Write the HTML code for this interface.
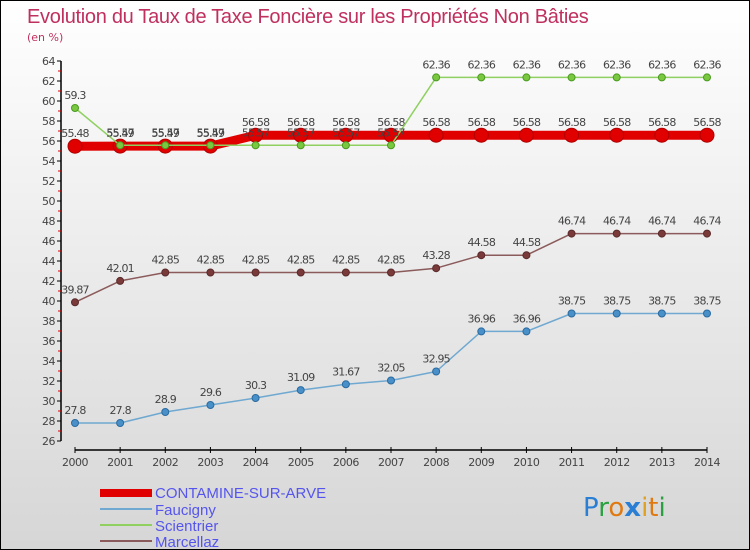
<!DOCTYPE html>
<html><head><meta charset="utf-8"><style>
body{margin:0}
#c{position:relative;width:748px;height:548px;border:1px solid #000;background:linear-gradient(#ffffff,#d6d6d6);font-family:"DejaVu Sans","Liberation Sans",sans-serif;overflow:hidden}
svg text{font-family:"DejaVu Sans","Liberation Sans",sans-serif}
</style></head><body>
<div id="c">
<svg id="s" width="748" height="548" xmlns="http://www.w3.org/2000/svg">
<text x="26" y="22" font-size="20" fill="#c0305e" style="font-family:'Liberation Sans',sans-serif;letter-spacing:-0.3px">Evolution du Taux de Taxe Foncière sur les Propriétés Non Bâties</text>
<text x="26" y="40" font-size="11" fill="#c0305e">(en %)</text>
<g id="axes"></g><g id="series"></g>
<g style="font-family:'Liberation Sans',sans-serif">
<rect x="99" y="488" width="52" height="8" fill="#e00000"/>
<text x="154" y="497" font-size="15" fill="#5555ee" style="font-family:'Liberation Sans',sans-serif">CONTAMINE-SUR-ARVE</text>
<line x1="99" y1="508" x2="151" y2="508" stroke="#6fa8d0" stroke-width="2"/>
<text x="154" y="514" font-size="15" fill="#5555ee" style="font-family:'Liberation Sans',sans-serif">Faucigny</text>
<line x1="99" y1="524" x2="151" y2="524" stroke="#8fd060" stroke-width="2"/>
<text x="154" y="530" font-size="15" fill="#5555ee" style="font-family:'Liberation Sans',sans-serif">Scientrier</text>
<line x1="99" y1="540" x2="151" y2="540" stroke="#8b5a5a" stroke-width="2"/>
<text x="154" y="546" font-size="15" fill="#5555ee" style="font-family:'Liberation Sans',sans-serif">Marcellaz</text>
</g>
<g font-size="26">
<text x="582" y="515"><tspan fill="#2a7fd4">P</tspan><tspan fill="#2aa040">r</tspan><tspan fill="#e07a10">o</tspan><tspan fill="#2a7fd4" font-weight="bold">x</tspan><tspan fill="#e0a020">i</tspan><tspan fill="#e07a10">t</tspan><tspan fill="#2aa040">i</tspan></text>
</g>
</svg>
</div>
<script>
const years=[2000,2001,2002,2003,2004,2005,2006,2007,2008,2009,2010,2011,2012,2013,2014];
const yTicks=[26,28,30,32,34,36,38,40,42,44,46,48,50,52,54,56,58,60,62,64];
const contamine=[55.48,55.49,55.49,55.49,56.58,56.58,56.58,56.58,56.58,56.58,56.58,56.58,56.58,56.58,56.58];
const faucigny=[27.8,27.8,28.9,29.6,30.3,31.09,31.67,32.05,32.95,36.96,36.96,38.75,38.75,38.75,38.75];
const scientrier=[59.3,55.57,55.57,55.57,55.57,55.57,55.57,55.57,62.36,62.36,62.36,62.36,62.36,62.36,62.36];
const marcellaz=[39.87,42.01,42.85,42.85,42.85,42.85,42.85,42.85,43.28,44.58,44.58,46.74,46.74,46.74,46.74];
const NS="http://www.w3.org/2000/svg";
const X=i=>74+i*(632/14);
const Y=v=>440-(v-26)*10;
function mk(t,a,p){const e=document.createElementNS(NS,t);for(const k in a)e.setAttribute(k,a[k]);p.appendChild(e);return e;}
const ax=document.getElementById('axes');
let yl=mk('line',{x1:60,y1:Y(64),x2:60,y2:Y(26),stroke:'#000','stroke-width':1.5},ax);


yTicks.forEach(v=>{
 mk('line',{x1:56,y1:Y(v),x2:60,y2:Y(v),stroke:'#000'},ax);
 if(v<64) mk('line',{x1:57,y1:Y(v+1),x2:60,y2:Y(v+1),stroke:'#e00000'},ax);
 let t=mk('text',{x:54,y:Y(v)+4,'font-size':11,fill:'#444','text-anchor':'end','letter-spacing':'-0.5'},ax);t.textContent=v;
 
 
});
let xl=mk('line',{x1:X(0),y1:449,x2:X(14),y2:449,stroke:'#000','stroke-width':1.5},ax);


years.forEach((y,i)=>{
 mk('line',{x1:X(i),y1:446,x2:X(i),y2:452,stroke:'#000'},ax);
 let t=mk('text',{x:X(i),y:465,'font-size':11,fill:'#444','text-anchor':'middle','letter-spacing':'-0.5'},ax);t.textContent=y;
 
 
});
const sg=document.getElementById('series');
function series(name,data,color,w,r,fill,stroke){
 const g=mk('g',{},sg);
 
 
 mk('polyline',{points:data.map((v,i)=>X(i)+','+Y(v)).join(' '),fill:'none',stroke:color,'stroke-width':w,'stroke-linejoin':'round'},g);
 data.forEach((v,i)=>{
  let c=mk('circle',{cx:X(i),cy:Y(v),r:r,fill:fill,stroke:stroke,'stroke-width':1},g);
  
  
  let t=mk('text',{x:X(i),y:Y(v)-9,'font-size':11,fill:'#444','text-anchor':'middle','letter-spacing':'-0.8'},g);t.textContent=v;
  
  
 });
}
series('marcellaz',marcellaz,'#8b5a5a',1.5,3.5,'#7a3a3a','#5a2a2a');
series('faucigny',faucigny,'#6fa8d0',1.5,3.5,'#4a90c8','#2a6aa0');
series('contamine',contamine,'#e00000',9,7,'#e00000','#b00000');
series('scientrier',scientrier,'#8fd060',1.5,3.5,'#7ac840','#4a9a20');
</script>
</body></html>
